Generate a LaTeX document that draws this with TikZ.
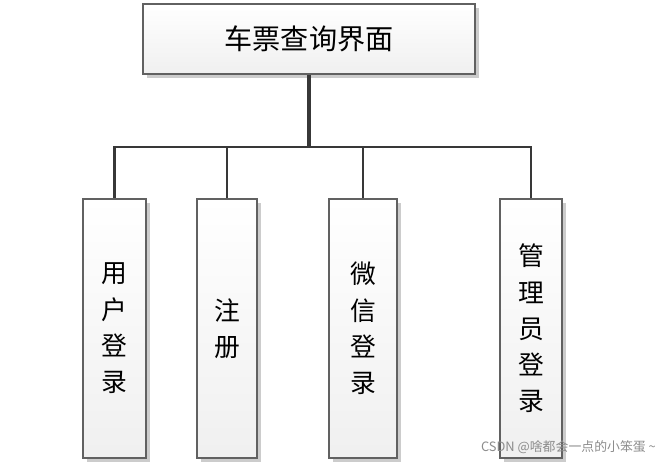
\documentclass[tikz,border=0pt]{standalone}
\usepackage{fontspec}
\newfontfamily\cjk{Noto Sans CJK SC}
\usetikzlibrary{shadows}
\tikzset{
  mbox/.style={draw=black!62,line width=0.9pt,top color=white,bottom color=black!6,
    drop shadow={shadow xshift=0.11cm,shadow yshift=-0.11cm,fill=black!20,opacity=1},
    inner sep=0pt},
  topbox/.style={mbox,minimum width=9.96cm,minimum height=2.1cm,
    font=\cjk\fontsize{24}{28}\selectfont},
  subbox/.style={mbox,minimum height=7.77cm,align=center,
    font=\cjk\fontsize{22}{31}\selectfont},
  stem/.style={draw=black!78,line width=2.8pt},
  link/.style={draw=black!78,line width=2pt}
}
\begin{document}
\begin{tikzpicture}[x=0.03cm,y=-0.03cm]
\useasboundingbox (0,0) rectangle (664,462);
\node[topbox] (T) at (309,39) {车票查询界面};
\node[subbox,minimum width=1.89cm] (B1) at (114.5,328.5) {用\\户\\登\\录};
\node[subbox,minimum width=1.80cm] (B2) at (227,328.5) {注\\册};
\node[subbox,minimum width=2.04cm] (B3) at (363,328.5) {微\\信\\登\\录};
\node[subbox,minimum width=1.86cm] (B4) at (531,328.5) {管\\理\\员\\登\\录};
\coordinate (J) at (309,147);
\draw[stem] (T.south) -- (J);
\draw[link] (J) -| (B1.north);
\draw[link] (J) -| (B2.north);
\draw[link] (J) -| (B3.north);
\draw[link] (J) -| (B4.north);
\node[text=black!45,font=\cjk\fontsize{11}{13}\selectfont,anchor=east] (W) at (660,447) {CSDN @啥都会一点的小笨蛋 \textasciitilde};
\end{tikzpicture}
\end{document}
